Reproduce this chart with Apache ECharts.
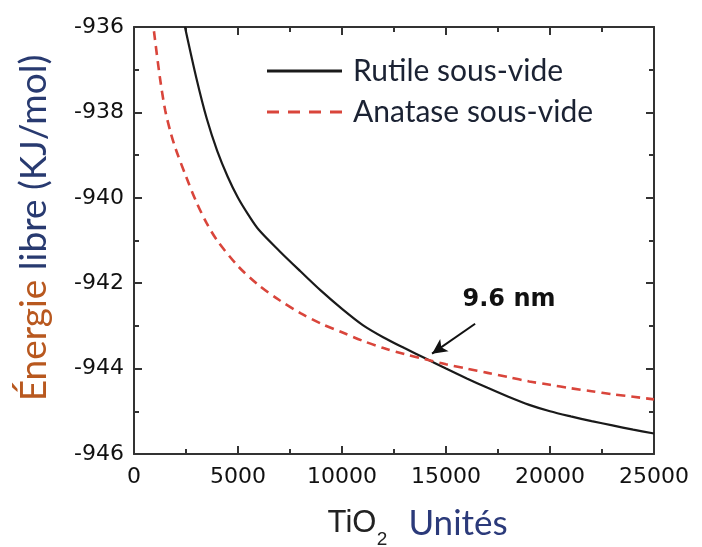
<!DOCTYPE html>
<html>
<head>
<meta charset="utf-8">
<script src="https://cdn.jsdelivr.net/npm/echarts@6/dist/echarts.min.js"></script>
<style>html,body{margin:0;padding:0;background:#fff}#c{width:702px;height:547px}</style>
</head>
<body>
<div id="c"></div>
<script>
// ---- data ----
const rutileX = [2450, 3000, 3500, 4000, 4500, 5000, 5500, 6000, 7000, 8000, 9000, 10000, 11000, 12000, 13000, 14000, 15000, 16000, 17000, 18000, 19000, 20000, 21000, 22000, 23000, 24000, 25000];
const rutileY = [-936.0, -937.2, -938.15, -938.9, -939.5, -940.0, -940.4, -940.75, -941.25, -941.72, -942.18, -942.6, -942.98, -943.27, -943.52, -943.76, -944.0, -944.23, -944.45, -944.66, -944.85, -945.0, -945.12, -945.23, -945.33, -945.43, -945.52];
const anataseX = [960, 1250, 1500, 1750, 2000, 2500, 3000, 3500, 4000, 5000, 6000, 7000, 8000, 9000, 10000, 11000, 12000, 13000, 14000, 15000, 16000, 17000, 18000, 19000, 20000, 21000, 22000, 23000, 24000, 25000];
const anataseY = [-936.1, -937.2, -937.95, -938.45, -938.85, -939.5, -940.1, -940.6, -941.0, -941.6, -942.05, -942.4, -942.7, -942.95, -943.15, -943.35, -943.52, -943.66, -943.78, -943.9, -944.0, -944.1, -944.2, -944.3, -944.38, -944.46, -944.53, -944.6, -944.66, -944.72];
const seriesNames = ['Rutile sous-vide', 'Anatase sous-vide'];
const annotationText = '9.6 nm';
const arrowFrom = [16400, -942.95];
const arrowTo = [14330, -943.65];
const xRange = [0, 25000], xStep = 5000;
const yRange = [-946, -936], yStep = 2;

const zip = (xs, ys) => xs.map((x, i) => [x, ys[i]]);
const chart = echarts.init(document.getElementById('c'), null, {renderer: 'canvas'});

function makeAxis(extra, showLabel, margin) {
  return Object.assign({
    type: 'value',
    axisLine: {show: true, onZero: false, lineStyle: {color: '#333', width: 2}},
    axisTick: {show: true, inside: true, length: 8, lineStyle: {color: '#333', width: 2}},
    minorTick: {show: true, splitNumber: 2, length: 5, lineStyle: {color: '#333', width: 2}},
    splitLine: {show: false},
    minorSplitLine: {show: false},
    axisLabel: {show: showLabel, margin: margin, color: '#111', fontFamily: 'DejaVu Sans', fontSize: 22,
      formatter: v => String(v)}
  }, extra);
}

chart.setOption({
  animation: false,
  backgroundColor: '#fff',
  grid: {left: 134, right: 48, top: 27, bottom: 93, containLabel: false},
  legend: {
    orient: 'vertical', left: 262, top: 50,
    itemWidth: 75, itemHeight: 3, itemGap: 9,
    data: [
      {name: seriesNames[0], icon: 'path://M0,0h75v3h-75z'},
      {name: seriesNames[1], icon: 'path://M0,0h12v3h-12z M21,0h12v3h-12z M42,0h12v3h-12z M63,0h12v3h-12z'}
    ],
    textStyle: {fontFamily: 'Lato', fontSize: 30, color: '#1b2233', lineHeight: 32, padding: [0, 0, 0, 6]}
  },
  xAxis: [
    makeAxis({min: xRange[0], max: xRange[1], interval: xStep, position: 'bottom'}, true, 12),
    makeAxis({min: xRange[0], max: xRange[1], interval: xStep, position: 'top'}, false, 8)
  ],
  yAxis: [
    makeAxis({min: yRange[0], max: yRange[1], interval: yStep, position: 'left'}, true, 10),
    makeAxis({min: yRange[0], max: yRange[1], interval: yStep, position: 'right'}, false, 8)
  ],
  series: [
    {
      name: seriesNames[0], type: 'line', smooth: 0.3, symbol: 'none', clip: true,
      data: zip(rutileX, rutileY),
      lineStyle: {color: '#1a1a1a', width: 2.2},
      itemStyle: {color: '#1a1a1a'},
      markLine: {
        silent: true, animation: false,
        symbol: ['none', 'arrow'], symbolSize: [11, 15],
        label: {show: false},
        lineStyle: {color: '#111', width: 2, type: 'solid'},
        data: [[{coord: arrowFrom}, {coord: arrowTo}]]
      }
    },
    {
      name: seriesNames[1], type: 'line', smooth: 0.3, symbol: 'none', clip: true,
      data: zip(anataseX, anataseY),
      lineStyle: {color: '#d9453b', width: 2.6, type: [9, 6]},
      itemStyle: {color: '#d9453b'}
    }
  ],
  graphic: [
    {type: 'text', x: 34, y: 228, rotation: Math.PI / 2,
      style: {text: '{a|Énergie}{b| libre (KJ/mol)}', align: 'center', verticalAlign: 'middle',
        rich: {a: {fontFamily: 'Lato', fontSize: 37, fill: '#b8581f'},
               b: {fontFamily: 'Lato', fontSize: 37, fill: '#283a70'}}}},
    {type: 'text', x: 352, y: 523,
      style: {text: 'TiO', align: 'center', verticalAlign: 'middle', fontFamily: 'Liberation Sans', fontSize: 31, fill: '#222'}},
    {type: 'text', x: 382, y: 540,
      style: {text: '2', align: 'center', verticalAlign: 'middle', fontFamily: 'Liberation Sans', fontSize: 19, fill: '#222'}},
    {type: 'text', x: 458, y: 524,
      style: {text: 'Unités', align: 'center', verticalAlign: 'middle', fontFamily: 'Lato', fontSize: 35, fill: '#2b3a7a'}},
    {type: 'text', x: 509, y: 300,
      style: {text: annotationText, align: 'center', verticalAlign: 'middle', fontFamily: 'DejaVu Sans', fontWeight: 'bold', fontSize: 24, fill: '#111'}}
  ]
});
</script>
</body>
</html>
